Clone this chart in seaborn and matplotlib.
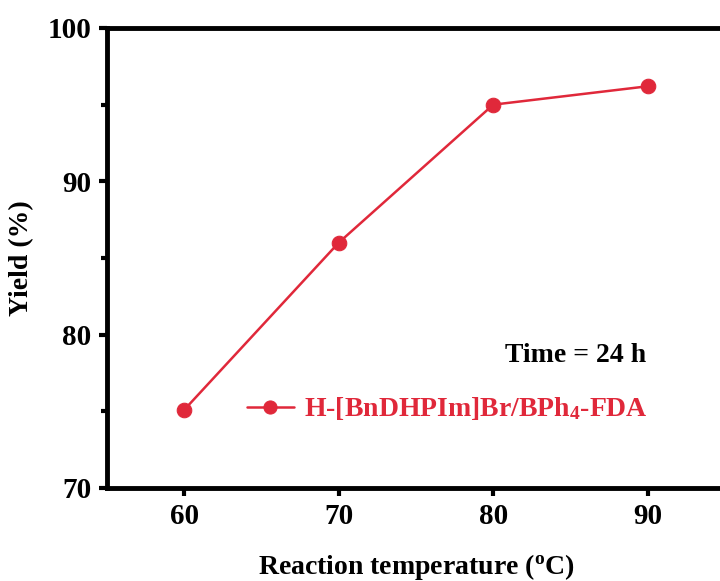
import matplotlib
matplotlib.use("Agg")
import matplotlib.pyplot as plt
import seaborn as sns
import pandas as pd
from matplotlib.ticker import MultipleLocator

temperature = [60, 70, 80, 90]
yield_pct = [75.1, 86.0, 95.0, 96.2]
series_name = "H-[BnDHPIm]Br/BPh$_4$-FDA"
xticks = [60, 70, 80, 90]
yticks = [70, 80, 90, 100]

sns.set_theme(style="ticks")
plt.rcParams["font.family"] = ["Liberation Serif", "DejaVu Serif"]
plt.rcParams["font.weight"] = "bold"
plt.rcParams["mathtext.fontset"] = "custom"
plt.rcParams["mathtext.rm"] = "Liberation Serif:bold"
plt.rcParams["mathtext.bf"] = "Liberation Serif:bold"
plt.rcParams["mathtext.it"] = "Liberation Serif:bold"
for k in ["text.color", "axes.labelcolor", "xtick.color", "ytick.color",
          "xtick.labelcolor", "ytick.labelcolor"]:
    plt.rcParams[k] = "black"

red = "#E0283A"
df = pd.DataFrame({"T": temperature, "Y": yield_pct, "s": series_name})

fig = plt.figure(figsize=(7.2, 5.81), dpi=100)
ax = fig.add_axes([107/720, 93/581, 618/720, 460/581])

sns.lineplot(data=df, x="T", y="Y", hue="s", palette=[red], marker="o",
             markersize=10.5, markeredgecolor=red, markerfacecolor=red,
             linewidth=1.8, ax=ax)

ax.set_xlim(55, 95)
ax.set_ylim(70, 100)
ax.set_xticks(xticks)
ax.set_yticks(yticks)
ax.yaxis.set_minor_locator(MultipleLocator(5))
ax.tick_params(axis="both", which="major", direction="out", length=6, width=3,
               labelsize=21, pad=5, colors="black")
ax.tick_params(axis="y", which="minor", direction="out", length=4, width=3)
for sp in ax.spines.values():
    sp.set_linewidth(3.5)
    sp.set_color("black")
for lab in ax.get_xticklabels() + ax.get_yticklabels():
    lab.set_fontweight("bold")

ax.set_xlabel("Reaction temperature ($^{\\mathrm{o}}$C)", fontsize=20,
              fontweight="bold", labelpad=16)
ax.set_ylabel("Yield (%)", fontsize=20, fontweight="bold", labelpad=10)

ax.text(0.873, 0.289, "Time = 24 h", transform=ax.transAxes, ha="right",
        va="center", fontsize=20, fontweight="bold", color="black")

leg = ax.legend(loc="center right", bbox_to_anchor=(0.906, 0.172), frameon=False,
                fontsize=20, handlelength=1.7, handletextpad=0.35, borderpad=0.2,
                markerscale=0.9)
for t in leg.get_texts():
    t.set_color(red)
    t.set_fontweight("bold")

fig.savefig("out.png", dpi=100)
